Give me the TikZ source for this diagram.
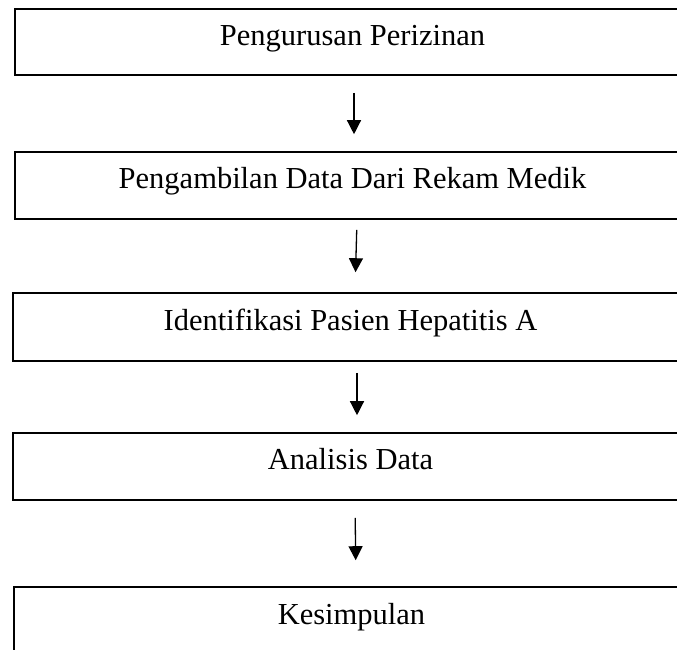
\documentclass[tikz,border=0pt]{standalone}
\usepackage{fontspec}
\setmainfont{Liberation Serif}
\usetikzlibrary{arrows.meta}
\tikzset{
  flowbox/.style={draw=black, line width=1.6pt, rectangle, inner sep=0pt,
    minimum width=675pt, minimum height=67pt,
    font=\fontsize{30.5}{36}\selectfont, text height=0.78em, text depth=0.14em},
  flowarrow/.style={line width=1.3pt, -{Triangle[width=14pt,length=14pt]}}
}
\begin{document}
\begin{tikzpicture}[x=1pt,y=-1pt]
\useasboundingbox (0,0) rectangle (677,649);
\node[flowbox, minimum height=66pt] (b1) at (352.5,42) {Pengurusan Perizinan};
\node[flowbox] (b2) at (352.5,185.5) {Pengambilan Data Dari Rekam Medik};
\node[flowbox, minimum height=68pt] (b3) at (350.5,327) {Identifikasi Pasien Hepatitis A};
\node[flowbox] (b4) at (350.5,466.5) {Analisis Data};
\node[flowbox, text height=0.82em, text depth=0.10em] (b5) at (351.5,620.5) {Kesimpulan};
\draw[flowarrow, shorten <=17pt, shorten >=17pt] ([xshift=1.5pt]b1.south) -- ([xshift=1.5pt]b2.north);
\draw[flowarrow, shorten <=10pt, shorten >=20pt] ([xshift=4.5pt]b2.south) -- ([xshift=4.5pt]b3.north);
\draw[flowarrow, shorten <=11pt, shorten >=17pt] ([xshift=6.5pt]b3.south) -- ([xshift=6.5pt]b4.north);
\draw[flowarrow, shorten <=17pt, shorten >=26pt] ([xshift=4.5pt]b4.south) -- ([xshift=4.5pt]b5.north);
\end{tikzpicture}
\end{document}
